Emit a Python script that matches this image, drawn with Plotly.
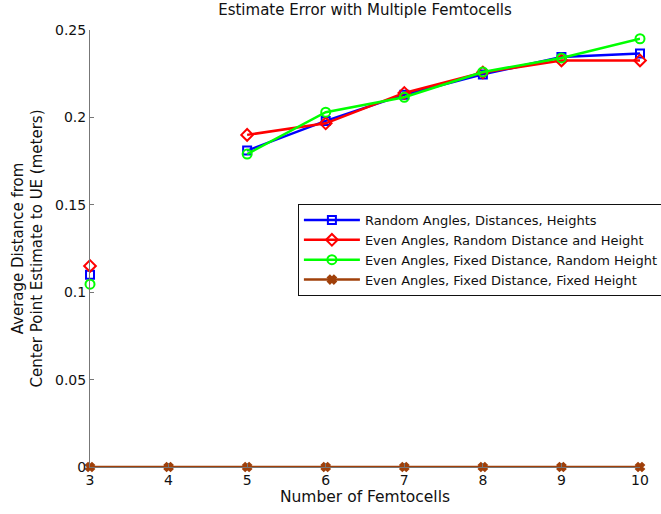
import plotly.graph_objects as go

femtocells = [3, 4, 5, 6, 7, 8, 9, 10]

random_all = [0.110, None, 0.181, 0.198, 0.213, 0.2246, 0.2345, 0.2365]
even_random_dh = [0.115, None, 0.190, 0.1966, 0.214, 0.2257, 0.2326, 0.2326]
even_fixed_d_random_h = [0.1046, None, 0.179, 0.203, 0.2115, 0.226, 0.234, 0.245]
even_fixed_dh = [0, 0, 0, 0, 0, 0, 0, 0]

series_names = [
    "Random Angles, Distances, Heights",
    "Even Angles, Random Distance and Height",
    "Even Angles, Fixed Distance, Random Height",
    "Even Angles, Fixed Distance, Fixed Height",
]
series_values = [random_all, even_random_dh, even_fixed_d_random_h, even_fixed_dh]
colors = ["#0000ff", "#ff0000", "#00ff00", "#a0400a"]
symbols = ["square-open", "diamond-open", "circle-open", "x"]
marker_sizes = [8, 9, 9, 7]

fig = go.Figure()
for name, vals, col, sym, ms in zip(series_names, series_values, colors, symbols, marker_sizes):
    fig.add_trace(go.Scatter(
        x=femtocells, y=vals, name=name, mode="lines+markers",
        line=dict(color=col, width=2.5),
        marker=dict(symbol=sym, size=ms, color=col, line=dict(color=col, width=2)),
        cliponaxis=False, connectgaps=False,
    ))

font_family = "DejaVu Sans, Liberation Sans, Arial, sans-serif"
fig.update_layout(
    width=661, height=514,
    margin=dict(l=90, r=21, t=30, b=47, autoexpand=False),
    paper_bgcolor="white", plot_bgcolor="white",
    font=dict(family=font_family, size=14, color="#111"),
    title=dict(text="Estimate Error with Multiple Femtocells", x=0.5, xref="paper",
               y=1 - 10 / 514, yanchor="middle", font=dict(size=15, color="#111")),
    showlegend=True,
    legend=dict(x=0.378, y=0.602, xanchor="left", yanchor="top",
                bordercolor="#111", borderwidth=1, bgcolor="white",
                font=dict(size=13, color="#111"), tracegroupgap=0, itemwidth=56),
    xaxis=dict(range=[3, 10], tickvals=femtocells, ticks="inside", ticklen=4,
               tickcolor="#777", showline=True, linecolor="#777", linewidth=1,
               showgrid=False, zeroline=False, tickfont=dict(size=14), automargin=False,
               title=dict(text="Number of Femtocells", font=dict(size=15.5), standoff=3)),
    yaxis=dict(range=[0, 0.25], tickvals=[0, 0.05, 0.1, 0.15, 0.2, 0.25],
               ticktext=["0", "0.05", "0.1", "0.15", "0.2", "0.25"],
               ticks="inside", ticklen=4, tickcolor="#777",
               showline=True, linecolor="#777", linewidth=1,
               showgrid=False, zeroline=False, tickfont=dict(size=14), automargin=False,
               title=dict(text="Average Distance from<br>Center Point Estimate to UE (meters)",
                          font=dict(size=15), standoff=8)),
)

fig.write_html("out.html")
